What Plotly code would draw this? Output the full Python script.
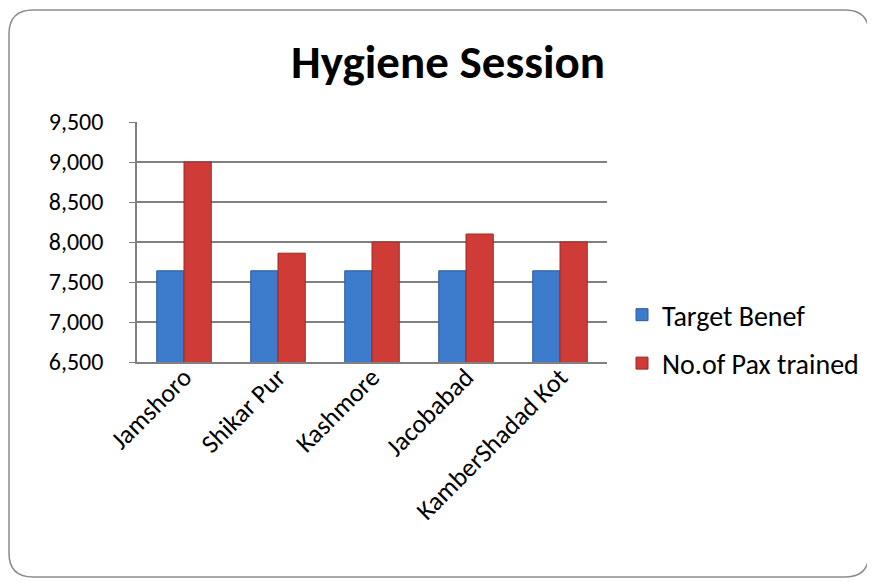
import plotly.graph_objects as go

categories = ["Jamshoro", "Shikar Pur", "Kashmore", "Jacobabad", "KamberShadad Kot"]
target_benef = [7640, 7640, 7640, 7640, 7640]
pax_trained = [9000, 7860, 8000, 8100, 8000]
y_ticks = [6500, 7000, 7500, 8000, 8500, 9000, 9500]

FONT = "Carlito, Calibri, Lato, 'Open Sans', sans-serif"

# page body has an 8px margin; figure coordinates are window - 8
OFF = 8
W, H = 875 - OFF, 582 - OFF
L, R, T, B = 137 - OFF, 607 - OFF, 122 - OFF, 362 - OFF
pw, ph = R - L, B - T

fig = go.Figure()
fig.add_trace(go.Bar(
    x=categories, y=target_benef, name="Target Benef",
    marker=dict(color="#3d7bcc", line=dict(color="#2a5a9e", width=1)),
    legendgroup="a",
))
fig.add_trace(go.Bar(
    x=categories, y=pax_trained, name="No.of Pax trained",
    marker=dict(color="#cf3c37", line=dict(color="#9a2a26", width=1)),
    legendgroup="b",
))

def px2x(px):
    return (px - OFF - L) / pw

def py2y(py):
    return (B - (py - OFF)) / ph

# rounded border
x0, x1 = px2x(9), px2x(869)
y0, y1 = py2y(577), py2y(10)
rx, ry = 24 / pw, 24 / ph
path = (f"M {x0+rx},{y1} L {x1-rx},{y1} Q {x1},{y1} {x1},{y1-ry} "
        f"L {x1},{y0+ry} Q {x1},{y0} {x1-rx},{y0} "
        f"L {x0+rx},{y0} Q {x0},{y0} {x0},{y0+ry} "
        f"L {x0},{y1-ry} Q {x0},{y1} {x0+rx},{y1} Z")
fig.add_shape(type="path", path=path, xref="paper", yref="paper",
              line=dict(color="#8c8c8c", width=1.5), layer="below")

fig.update_layout(
    width=W, height=H,
    margin=dict(l=L, r=W - R, t=T, b=H - B, autoexpand=False),
    paper_bgcolor="white", plot_bgcolor="white",
    barmode="group", bargap=0.42, bargroupgap=0,
    title=dict(text="<b>Hygiene Session</b>", x=(448 - OFF) / W, xanchor="center",
               y=1 - (62 - OFF) / H, yanchor="middle",
               font=dict(family=FONT, size=47, color="black")),
    font=dict(family=FONT, color="black"),
    legend=dict(x=px2x(622), y=py2y(339), xanchor="left", yanchor="middle",
                font=dict(family=FONT, size=28), tracegroupgap=9,
                bgcolor="rgba(0,0,0,0)"),
    yaxis=dict(range=[6500, 9500], tickvals=y_ticks, tickformat=",",
               showgrid=True, gridcolor="#808080", gridwidth=1.5,
               showline=True, linecolor="#808080", linewidth=1.5,
               ticks="outside", ticklen=6, tickcolor="#808080",
               ticklabelstandoff=21,
               tickfont=dict(family=FONT, size=24), zeroline=False),
    xaxis=dict(tickangle=-45, showline=True, linecolor="#808080", linewidth=1.5,
               tickfont=dict(family=FONT, size=26), ticks="",
               ticklabelstandoff=-12),
)

fig.write_html("out.html")
